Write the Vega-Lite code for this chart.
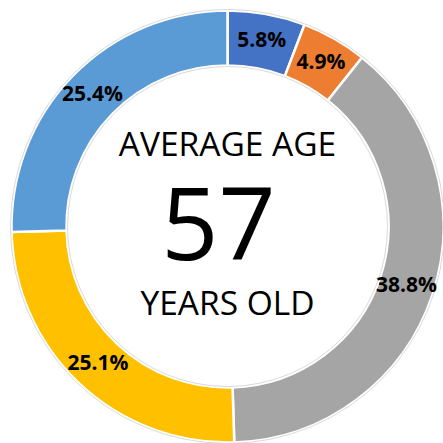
{
  "$schema": "https://vega.github.io/schema/vega-lite/v6.json",
  "autosize": {"type": "fit", "contains": "padding"},
  "width": 443,
  "height": 443,
  "padding": {"left": 12, "top": 10, "right": 0, "bottom": 0},
  "background": "white",
  "config": {"view": {"stroke": null}},
  "datasets": {
    "slices": [
      {"group": "A", "order": 1, "share": 0.058},
      {"group": "B", "order": 2, "share": 0.049},
      {"group": "C", "order": 3, "share": 0.388},
      {"group": "D", "order": 4, "share": 0.251},
      {"group": "E", "order": 5, "share": 0.254}
    ],
    "ring": [{"share": 1}],
    "title1": [{"t": "AVERAGE AGE"}],
    "title2": [{"t": "57"}],
    "title3": [{"t": "YEARS OLD"}]
  },
  "layer": [
    {
      "data": {"name": "slices"},
      "mark": {"type": "arc", "radius": 216, "radius2": 161, "stroke": "white", "strokeWidth": 2.5},
      "encoding": {
        "theta": {"field": "share", "type": "quantitative", "stack": true},
        "order": {"field": "order", "type": "quantitative"},
        "color": {
          "field": "group",
          "type": "nominal",
          "legend": null,
          "scale": {"domain": ["A", "B", "C", "D", "E"], "range": ["#4472C4", "#ED7D31", "#A5A5A5", "#FFC000", "#5B9BD5"]}
        }
      }
    },
    {
      "data": {"name": "ring"},
      "mark": {"type": "arc", "radius": 217, "radius2": 160, "fillOpacity": 0, "stroke": "#dadada", "strokeWidth": 1},
      "encoding": {
        "theta": {"field": "share", "type": "quantitative", "stack": true}
      }
    },
    {
      "data": {"name": "slices"},
      "mark": {"type": "text", "radius": 188.5, "font": "Open Sans", "fontWeight": "bold", "fontSize": 21, "baseline": "middle", "align": "center", "color": "black"},
      "encoding": {
        "theta": {"field": "share", "type": "quantitative", "stack": true},
        "order": {"field": "order", "type": "quantitative"},
        "text": {"field": "share", "type": "quantitative", "format": ".1%"}
      }
    },
    {
      "data": {"name": "title1"},
      "mark": {"type": "text", "font": "Open Sans", "fontSize": 33.5, "baseline": "alphabetic", "align": "center", "dy": -71, "color": "black"},
      "encoding": {"text": {"field": "t", "type": "nominal"}}
    },
    {
      "data": {"name": "title2"},
      "mark": {"type": "text", "font": "Open Sans", "fontSize": 100, "baseline": "alphabetic", "align": "center", "dy": 33, "dx": -9, "color": "black"},
      "encoding": {"text": {"field": "t", "type": "nominal"}}
    },
    {
      "data": {"name": "title3"},
      "mark": {"type": "text", "font": "Open Sans", "fontSize": 33.5, "baseline": "alphabetic", "align": "center", "dy": 88, "color": "black"},
      "encoding": {"text": {"field": "t", "type": "nominal"}}
    }
  ]
}
